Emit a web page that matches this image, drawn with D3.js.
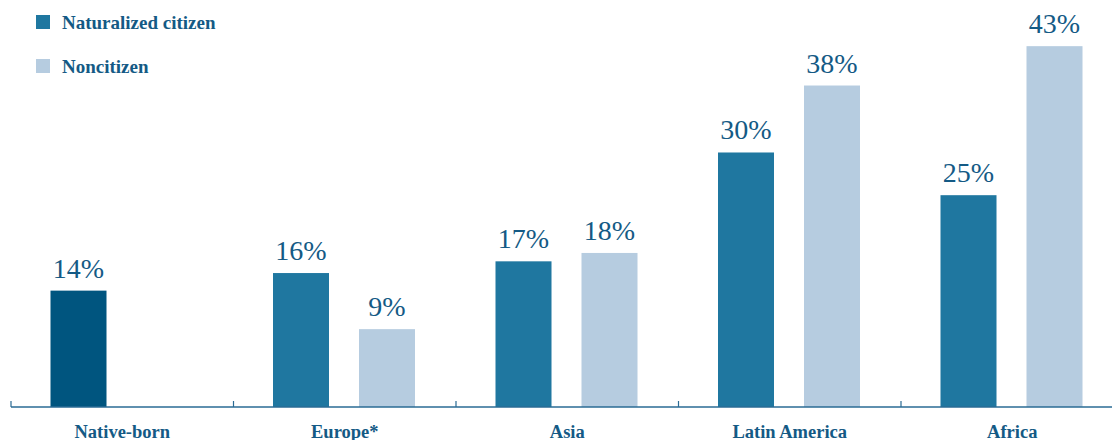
<!DOCTYPE html>
<html>
<head>
<meta charset="utf-8">
<script src="https://cdn.jsdelivr.net/npm/d3@7"></script>
<style>
    body { margin: 0; background: #fff; }
    svg { display: block; font-family: 'Liberation Serif', 'DejaVu Serif', serif; }
</style>
</head>
<body>
<svg></svg>
<script>
// data (labels show the rounded value)
const CATEGORIES = ['Native-born', 'Europe*', 'Asia', 'Latin America', 'Africa'];
const SERIES = ['Naturalized citizen', 'Noncitizen'];
const NATURALIZED = [13.9, 16.0, 17.4, 30.4, 25.3];   // first one is the native-born bar
const NONCITIZEN = [null, 9.3, 18.4, 38.4, 43.1];

const WIDTH = 1112;
const HEIGHT = 440;
const BASE_Y = 407;
const TEXT_COLOR = '#145a85';
const COLORS = {native: '#00557f', nat: '#1f77a0', non: '#b6cce0'};

const svg = d3.select('svg')
    .attr('width', WIDTH)
    .attr('height', HEIGHT);

/* ************** SCALES ************** */
const x = d3.scaleBand().domain(CATEGORIES).range([11, 11 + 222.5 * 5]).paddingInner(0).paddingOuter(0);
const x1 = d3.scaleBand().domain(SERIES).range([39.5, 181.5]).paddingInner(30 / 142 * 2 / (1 + 30 / 142));
const y = d3.scaleLinear().domain([0, 43]).range([BASE_Y, 47]);

const rows = CATEGORIES.map((c, i) => ({cat: c, i: i, vals: [NATURALIZED[i], NONCITIZEN[i]]}));

/* ************** BARS ************** */
const group = svg.selectAll('.group')
    .data(rows)
    .enter().append('g')
    .attr('class', 'group')
    .attr('transform', d => `translate(${x(d.cat)},0)`);

const bars = group.selectAll('.bar')
    .data(d => d.vals.map((v, k) => ({v: v, k: k, i: d.i})).filter(e => e.v !== null))
    .enter();

bars.append('rect')
    .attr('class', 'bar')
    .attr('x', d => x1(SERIES[d.k]))
    .attr('width', x1.bandwidth())
    .attr('y', d => y(d.v))
    .attr('height', d => BASE_Y - y(d.v))
    .attr('fill', d => d.i === 0 ? COLORS.native : (d.k === 0 ? COLORS.nat : COLORS.non));

bars.append('text')
    .attr('class', 'label')
    .attr('x', d => x1(SERIES[d.k]) + x1.bandwidth() / 2)
    .attr('y', d => y(d.v) - 13)
    .attr('text-anchor', 'middle')
    .attr('font-size', '28px')
    .attr('fill', TEXT_COLOR)
    .text(d => Math.round(d.v) + '%');

/* ************** AXIS ************** */
const axis = svg.append('g').attr('transform', `translate(0,${BASE_Y})`);
axis.call(d3.axisBottom(x).tickSize(0).tickPadding(0))
    .call(g => g.select('.domain').remove());
axis.append('line')
    .attr('x1', 11).attr('x2', WIDTH)
    .attr('stroke', '#2a6b94').attr('stroke-width', 1.5);
axis.selectAll('.sep')
    .data(CATEGORIES)
    .enter().append('line')
    .attr('class', 'sep')
    .attr('x1', d => x(d)).attr('x2', d => x(d))
    .attr('y1', 0).attr('y2', -6)
    .attr('stroke', '#2a6b94').attr('stroke-width', 1.2);
axis.selectAll('.tick text')
    .attr('y', 30.5)
    .attr('dy', 0)
    .attr('font-family', "'Liberation Serif', serif")
    .attr('font-size', '18.5px')
    .attr('font-weight', 'bold')
    .attr('fill', TEXT_COLOR);

/* ************** LEGEND ************** */
const legend = svg.selectAll('.legend')
    .data(SERIES)
    .enter().append('g')
    .attr('class', 'legend')
    .attr('transform', (d, i) => `translate(36,${15 + i * 44})`);
legend.append('rect')
    .attr('width', 14).attr('height', 14)
    .attr('fill', (d, i) => i === 0 ? COLORS.nat : COLORS.non);
legend.append('text')
    .attr('x', 26).attr('y', 14)
    .attr('font-size', '19px')
    .attr('font-weight', 'bold')
    .attr('fill', TEXT_COLOR)
    .text(d => d);
</script>
</body>
</html>
